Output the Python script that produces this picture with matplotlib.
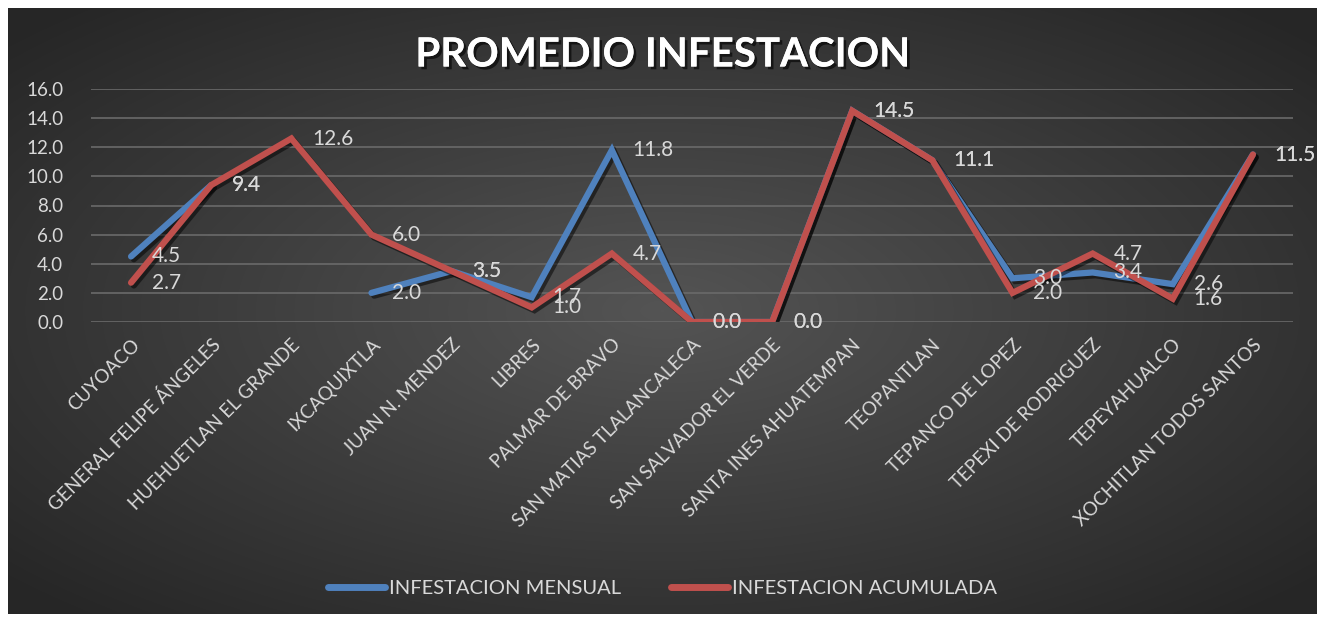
import numpy as np
import matplotlib
matplotlib.use('Agg')
import matplotlib.pyplot as plt
import matplotlib.patheffects as pe

# data
municipios = ['CUYOACO', 'GENERAL FELIPE ÁNGELES', 'HUEHUETLAN EL GRANDE', 'IXCAQUIXTLA',
              'JUAN N. MENDEZ', 'LIBRES', 'PALMAR DE BRAVO', 'SAN MATIAS TLALANCALECA',
              'SAN SALVADOR EL VERDE', 'SANTA INES AHUATEMPAN', 'TEOPANTLAN', 'TEPANCO DE LOPEZ',
              'TEPEXI DE RODRIGUEZ', 'TEPEYAHUALCO', 'XOCHITLAN TODOS SANTOS']
mensual = [4.5, 9.4, np.nan, 2.0, 3.5, 1.7, 11.8, 0.0, 0.0, 14.5, 11.1, 3.0, 3.4, 2.6, 11.5]
acumulada = [2.7, 9.4, 12.6, 6.0, 3.5, 1.0, 4.7, 0.0, 0.0, 14.5, 11.1, 2.0, 4.7, 1.6, 11.5]
y_ticks = np.arange(0, 17, 2)

W, H = 1325, 622
fig = plt.figure(figsize=(W / 100, H / 100), dpi=100)
fig.patch.set_facecolor('white')

# radial gradient background (dark chart area inside a thin white border)
bg = fig.add_axes([8 / W, 8 / H, 1 - 17 / W, 1 - 16 / H])
yy, xx = np.mgrid[-1:1:300j, -1:1:600j]
r = np.sqrt(xx ** 2 + yy ** 2)
shade = 0.33 - 0.18 * np.clip(r / 1.35, 0, 1)
bg.imshow(np.dstack([shade] * 3), aspect='auto', extent=[0, 1, 0, 1], interpolation='bilinear')
bg.set_axis_off()

txt = '#d9d9d9'
plt.rcParams['font.family'] = ['Lato', 'DejaVu Sans']

ax = fig.add_axes([91 / W, 1 - 322 / H, (1293 - 91) / W, (322 - 89) / H])
ax.set_facecolor('none')
x = np.arange(len(municipios))

shadow = [pe.SimpleLineShadow(offset=(2, -2), shadow_color='black', alpha=0.5), pe.Normal()]
ax.plot(x, mensual, color='#4F81BD', lw=4.5, solid_capstyle='round', solid_joinstyle='miter',
        label='INFESTACION MENSUAL', path_effects=shadow, zorder=3)
ax.plot(x, acumulada, color='#C0504D', lw=4.5, solid_capstyle='round', solid_joinstyle='miter',
        label='INFESTACION ACUMULADA', path_effects=shadow, zorder=4)

for serie in (mensual, acumulada):
    for xi, v in zip(x, serie):
        if np.isnan(v):
            continue
        ax.annotate(f'{v:.1f}', (xi, v), xytext=(15, 0), textcoords='offset points',
                    ha='left', va='center', color=txt, fontsize=15, zorder=5)

ax.set_xlim(-0.5, len(municipios) - 0.5)
ax.set_ylim(0, 16)
ax.set_yticks(y_ticks)
ax.set_yticklabels([f'{t:.1f}' for t in y_ticks])
ax.yaxis.grid(True, color='#6a6a6a', lw=1.2)
ax.set_axisbelow(True)
ax.set_xticks(x)
ax.set_xticklabels(municipios, rotation=45, ha='right', rotation_mode='anchor')
ax.tick_params(axis='both', length=0, colors=txt, labelsize=13.5)
ax.tick_params(axis='x', pad=10)
ax.tick_params(axis='y', pad=20)
for s in ax.spines.values():
    s.set_visible(False)

fig.text(0.5, 1 - 55 / H, 'PROMEDIO INFESTACION', ha='center', va='center', color='white',
         fontsize=29, fontweight='bold',
         path_effects=[pe.withSimplePatchShadow(offset=(2, -2), shadow_rgbFace='black', alpha=0.6),
                       pe.Normal()])

leg = fig.legend(loc='center', bbox_to_anchor=(0.5, 1 - 588 / H), ncol=2, frameon=False,
                 fontsize=14.5, labelcolor=txt, handlelength=2.8, handletextpad=0.2,
                 columnspacing=2.5)
for h in leg.get_lines():
    h.set_linewidth(5)
    h.set_path_effects([])

fig.savefig('out.png', dpi=100, facecolor='white')
